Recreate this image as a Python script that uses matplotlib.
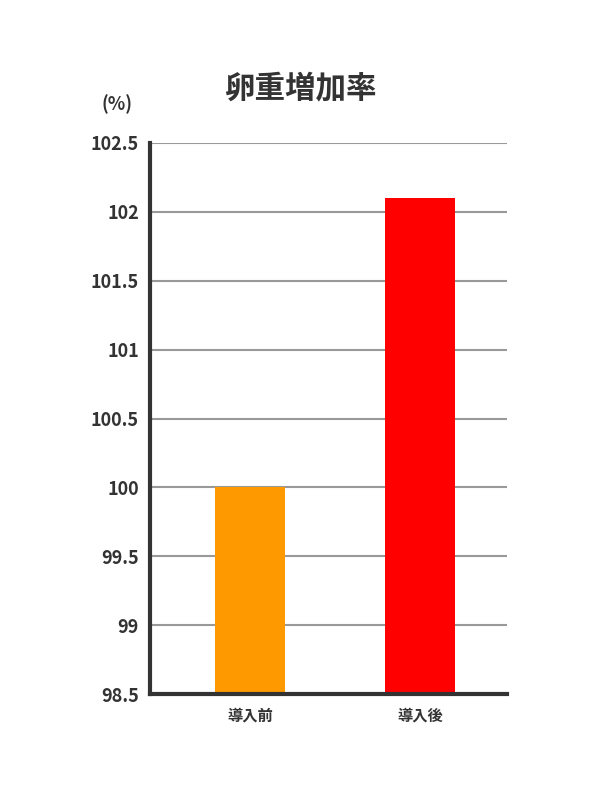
import matplotlib
matplotlib.use("Agg")
import matplotlib.pyplot as plt

plt.rcParams['font.family'] = ['Noto Sans CJK JP', 'DejaVu Sans']

categories = ["導入前", "導入後"]
values = [100.0, 102.1]
colors = ["#FF9900", "#FF0000"]
yticks = [98.5, 99, 99.5, 100, 100.5, 101, 101.5, 102, 102.5]
ytick_labels = ["98.5", "99", "99.5", "100", "100.5", "101", "101.5", "102", "102.5"]

fig = plt.figure(figsize=(6, 8), dpi=100)
ax = fig.add_axes([0.25, 0.1325, 0.595, 0.68875])

x = list(range(len(categories)))
ax.bar(x, [v - 98.5 for v in values], bottom=98.5, width=0.41, color=colors, zorder=3)

ax.set_ylim(98.5, 102.5)
ax.set_xlim(-0.588, 1.512)
ax.set_yticks(yticks)
ax.set_yticklabels(ytick_labels, fontsize=13, fontweight='bold', color='#333333')
ax.set_xticks(x)
ax.set_xticklabels(categories, fontsize=11, fontweight='bold', color='#333333')
ax.tick_params(axis='both', length=0, pad=10)
ax.tick_params(axis='y', pad=8)
ax.grid(axis='y', color='#999999', linewidth=1.5, zorder=0)

for s in ['top', 'right']:
    ax.spines[s].set_visible(False)
for s in ['left', 'bottom']:
    ax.spines[s].set_color('#333333')
    ax.spines[s].set_linewidth(3)
    ax.spines[s].set_zorder(4)

fig.text(0.5, 0.89, "卵重増加率", ha='center', va='center', fontsize=22, fontweight='bold', color='#333333')
fig.text(0.195, 0.87, "(%)", ha='center', va='center', fontsize=13, fontweight='bold', color='#333333')

fig.savefig("out.png", dpi=100)
